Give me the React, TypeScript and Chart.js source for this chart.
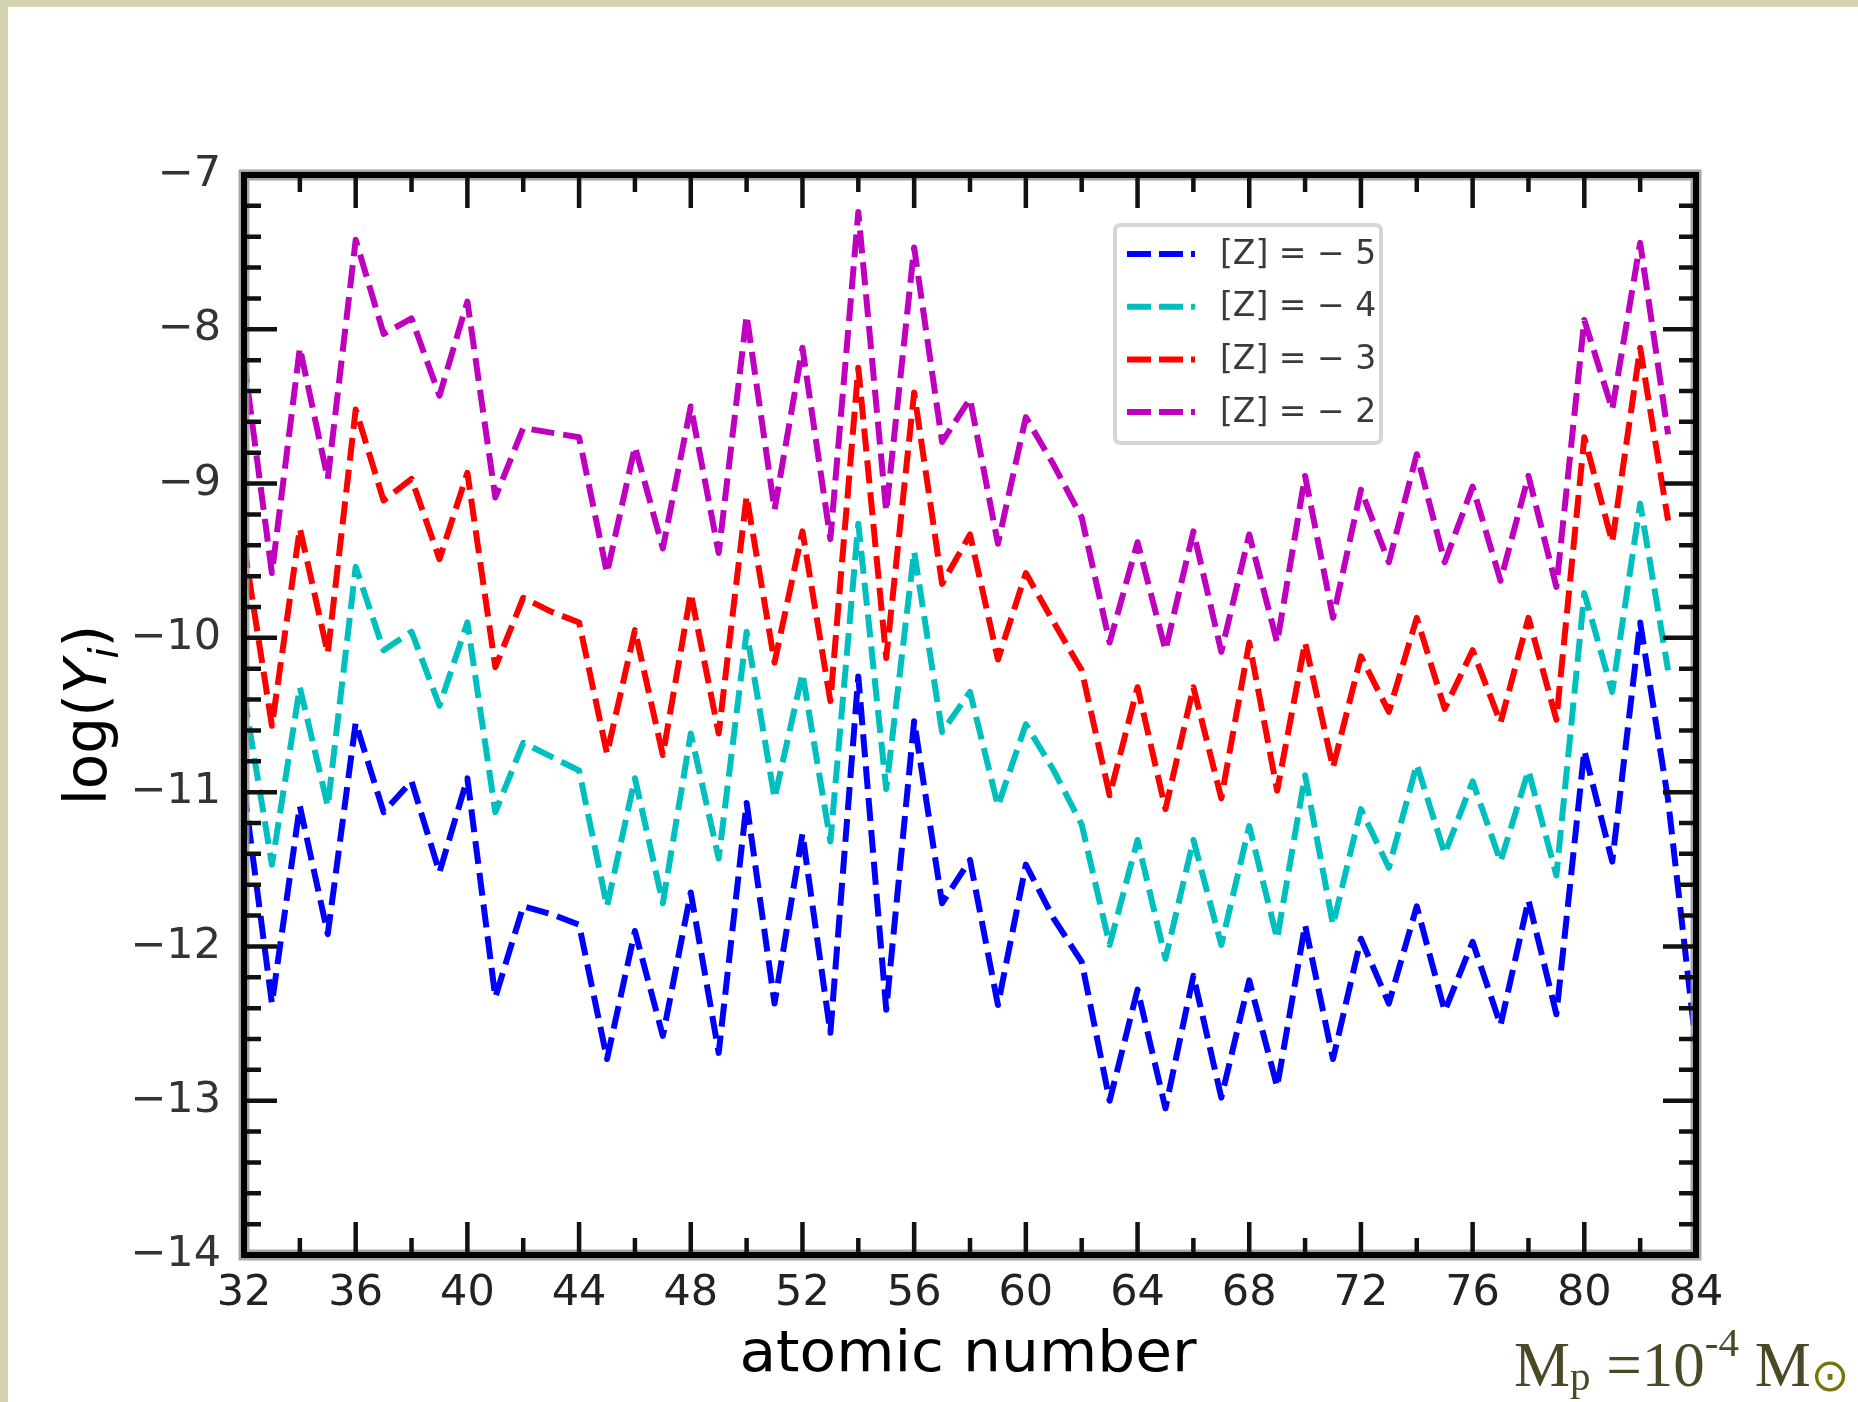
import React, { useEffect, useRef } from 'react';
import { Chart, registerables } from 'chart.js';

Chart.register(...registerables);

// ---- data ----
const atomicNumbers = [
  32, 33, 34, 35, 36, 37, 38, 39, 40, 41, 42, 43, 44, 45, 46, 47, 48, 49, 50, 51,
  52, 53, 54, 55, 56, 57, 58, 59, 60, 61, 62, 63, 64, 65, 66, 67, 68, 69, 70, 71,
  72, 73, 74, 75, 76, 77, 78, 79, 80, 81, 82, 83, 84,
];

const seriesLabels = ['[Z] = \u2212 5', '[Z] = \u2212 4', '[Z] = \u2212 3', '[Z] = \u2212 2'];
const seriesColors = ['#0000ff', '#00bfbf', '#ff0000', '#bf00bf'];

const logY_Zm5 = [
  -10.98, -12.37, -11.09, -11.92, -10.55, -11.13, -10.93, -11.52, -10.91, -12.33,
  -11.74, -11.79, -11.86, -12.73, -11.90, -12.58, -11.65, -12.69, -11.07, -12.37,
  -11.27, -12.56, -10.25, -12.41, -10.54, -11.72, -11.44, -12.38, -11.47, -11.82,
  -12.10, -13.00, -12.28, -13.05, -12.19, -12.98, -12.22, -12.91, -11.86, -12.73,
  -11.95, -12.37, -11.74, -12.42, -11.97, -12.51, -11.70, -12.44, -10.73, -11.45,
  -9.90, -11.05, -12.65,
];
const logY_Zm4 = [
  -10.37, -11.47, -10.32, -11.09, -9.54, -10.08, -9.96, -10.44, -9.90, -11.13,
  -10.68, -10.77, -10.86, -11.74, -10.91, -11.72, -10.62, -11.43, -9.96, -11.04,
  -10.23, -11.32, -9.26, -10.98, -9.44, -10.61, -10.35, -11.09, -10.56, -10.86,
  -11.21, -11.99, -11.31, -12.08, -11.31, -11.99, -11.22, -11.95, -10.89, -11.86,
  -11.11, -11.49, -10.82, -11.40, -10.93, -11.45, -10.86, -11.54, -9.71, -10.35,
  -9.13, -10.21, null,
];
const logY_Zm3 = [
  -9.40, -10.57, -9.29, -10.10, -8.52, -9.11, -8.97, -9.49, -8.93, -10.19,
  -9.74, -9.83, -9.90, -10.75, -9.95, -10.76, -9.71, -10.62, -9.08, -10.16,
  -9.31, -10.41, -8.25, -10.13, -8.41, -9.65, -9.33, -10.14, -9.58, -9.90,
  -10.21, -11.02, -10.32, -11.11, -10.32, -11.04, -10.03, -10.99, -10.03, -10.84,
  -10.12, -10.48, -9.87, -10.46, -10.08, -10.55, -9.87, -10.53, -8.70, -9.38,
  -8.12, -9.24, null,
];
const logY_Zm2 = [
  -8.20, -9.58, -8.12, -8.97, -7.42, -8.03, -7.93, -8.43, -7.82, -9.09,
  -8.64, -8.67, -8.70, -9.58, -8.76, -9.42, -8.50, -9.45, -7.91, -9.17,
  -8.12, -9.36, -7.24, -9.18, -7.47, -8.73, -8.45, -9.39, -8.57, -8.88,
  -9.22, -10.03, -9.38, -10.08, -9.31, -10.09, -9.33, -10.03, -8.95, -9.87,
  -9.04, -9.51, -8.81, -9.51, -9.02, -9.63, -8.95, -9.67, -7.94, -8.52,
  -7.44, -8.68, null,
];

const xTickValues = [32, 36, 40, 44, 48, 52, 56, 60, 64, 68, 72, 76, 80, 84];
const yTickValues = [-14, -13, -12, -11, -10, -9, -8, -7];

const xTitle = 'atomic number';

// ---- layout constants ----
const W = 1858;
const H = 1402;
const FONT = '"DejaVu Sans"';

const decorPlugin = {
  id: 'decor',
  afterDatasetsDraw(chart: any) {
    const { ctx, chartArea: a, scales } = chart;
    const xs = scales.x;
    const ys = scales.y;
    ctx.save();
    ctx.setLineDash([]);

    // halo around the frame
    ctx.strokeStyle = 'rgba(150,150,150,0.85)';
    ctx.lineWidth = 11;
    ctx.strokeRect(a.left, a.top, a.right - a.left, a.bottom - a.top);

    // inward ticks
    ctx.strokeStyle = '#111';
    ctx.lineWidth = 4.5;
    ctx.lineCap = 'butt';
    ctx.beginPath();
    for (let i = 0; i < xTickValues.length - 1; i++) {
      const v0 = xTickValues[i];
      const v1 = xTickValues[i + 1];
      const px = xs.getPixelForValue(v0 + (v1 - v0) / 2);
      ctx.moveTo(px, a.bottom); ctx.lineTo(px, a.bottom - 17);
      ctx.moveTo(px, a.top); ctx.lineTo(px, a.top + 17);
      if (i > 0) {
        const pm = xs.getPixelForValue(v0);
        ctx.moveTo(pm, a.bottom); ctx.lineTo(pm, a.bottom - 33);
        ctx.moveTo(pm, a.top); ctx.lineTo(pm, a.top + 33);
      }
    }
    for (let i = 0; i < yTickValues.length - 1; i++) {
      const v0 = yTickValues[i];
      const v1 = yTickValues[i + 1];
      for (let k = 1; k < 5; k++) {
        const py = ys.getPixelForValue(v0 + ((v1 - v0) * k) / 5);
        ctx.moveTo(a.left, py); ctx.lineTo(a.left + 17, py);
        ctx.moveTo(a.right, py); ctx.lineTo(a.right - 17, py);
      }
      if (i > 0) {
        const py = ys.getPixelForValue(v0);
        ctx.moveTo(a.left, py); ctx.lineTo(a.left + 33, py);
        ctx.moveTo(a.right, py); ctx.lineTo(a.right - 33, py);
      }
    }
    ctx.stroke();

    // frame
    ctx.strokeStyle = '#000';
    ctx.lineWidth = 6;
    ctx.strokeRect(a.left, a.top, a.right - a.left, a.bottom - a.top);

    // legend
    const lx0 = 1115, ly0 = 225, lx1 = 1381, ly1 = 443, r = 6;
    ctx.beginPath();
    ctx.moveTo(lx0 + r, ly0);
    ctx.lineTo(lx1 - r, ly0);
    ctx.quadraticCurveTo(lx1, ly0, lx1, ly0 + r);
    ctx.lineTo(lx1, ly1 - r);
    ctx.quadraticCurveTo(lx1, ly1, lx1 - r, ly1);
    ctx.lineTo(lx0 + r, ly1);
    ctx.quadraticCurveTo(lx0, ly1, lx0, ly1 - r);
    ctx.lineTo(lx0, ly0 + r);
    ctx.quadraticCurveTo(lx0, ly0, lx0 + r, ly0);
    ctx.closePath();
    ctx.fillStyle = 'rgba(255,255,255,0.85)';
    ctx.fill();
    ctx.strokeStyle = '#d6d6d6';
    ctx.lineWidth = 4;
    ctx.stroke();

    chart.data.datasets.forEach((ds: any, i: number) => {
      const y = 254 + i * 52.7;
      ctx.beginPath();
      ctx.setLineDash([24, 8]);
      ctx.strokeStyle = ds.borderColor;
      ctx.lineWidth = 6;
      ctx.moveTo(1127, y);
      ctx.lineTo(1195, y);
      ctx.stroke();
      ctx.setLineDash([]);
      ctx.fillStyle = '#3a3a3a';
      ctx.font = `33px ${FONT}`;
      ctx.textAlign = 'left';
      ctx.textBaseline = 'middle';
      ctx.fillText(ds.label, 1220, y + 1);
    });

    // x title
    ctx.save();
    ctx.fillStyle = '#000';
    ctx.font = `57px ${FONT}`;
    ctx.textAlign = 'center';
    ctx.textBaseline = 'alphabetic';
    ctx.translate((a.left + a.right) / 2 - 2, 1371);
    ctx.scale(1.05, 1);
    ctx.fillText(xTitle, 0, 0);
    ctx.restore();

    // y title: log(Y_i)
    ctx.save();
    ctx.translate(106, (a.top + a.bottom) / 2);
    ctx.rotate(-Math.PI / 2);
    ctx.fillStyle = '#000';
    ctx.textBaseline = 'alphabetic';
    ctx.textAlign = 'left';
    const fs = 58;
    const parts = [
      { t: 'log(', f: `${fs}px ${FONT}`, dy: 0 },
      { t: 'Y', f: `oblique ${fs}px ${FONT}`, dy: 0 },
      { t: 'i', f: `oblique ${Math.round(fs * 0.7)}px ${FONT}`, dy: fs * 0.2 },
      { t: ')', f: `${fs}px ${FONT}`, dy: 0 },
    ];
    let total = 0;
    const widths = parts.map((p) => {
      ctx.font = p.f;
      const w = ctx.measureText(p.t).width;
      total += w;
      return w;
    });
    let cx = -total / 2;
    parts.forEach((p, i) => {
      ctx.font = p.f;
      ctx.fillText(p.t, cx, p.dy);
      cx += widths[i];
    });
    ctx.restore();

    ctx.restore();
  },
};

export default function App() {
  const canvasRef = useRef<HTMLCanvasElement | null>(null);

  useEffect(() => {
    const canvas = canvasRef.current;
    if (!canvas) return;
    const seriesValues = [logY_Zm5, logY_Zm4, logY_Zm3, logY_Zm2];
    const datasets = seriesValues.map((vals, i) => ({
      label: seriesLabels[i],
      data: atomicNumbers
        .map((z, j) => ({ x: z, y: vals[j] }))
        .filter((p) => p.y !== null && p.y !== undefined),
      borderColor: seriesColors[i],
      backgroundColor: seriesColors[i],
      borderWidth: 6,
      borderDash: [23, 9],
      borderJoinStyle: 'round' as const,
      pointRadius: 0,
      tension: 0,
      fill: false,
      order: 3 - i,
    }));

    const chart = new Chart(canvas, {
      type: 'line',
      data: { datasets },
      options: {
        animation: false,
        responsive: false,
        devicePixelRatio: 1,
        layout: { padding: { left: 0, right: W - 1696, top: 175, bottom: 0 } },
        plugins: {
          legend: { display: false },
          tooltip: { enabled: false },
        },
        scales: {
          x: {
            type: 'linear',
            min: 32,
            max: 84,
            grid: { display: false },
            border: { display: false },
            afterBuildTicks: (s: any) => {
              s.ticks = xTickValues.map((v) => ({ value: v }));
            },
            ticks: {
              autoSkip: false,
              maxRotation: 0,
              padding: 5,
              color: '#222',
              font: { family: 'DejaVu Sans', size: 43 },
            },
            afterFit: (s: any) => {
              s.height = H - 1255;
            },
          },
          y: {
            type: 'linear',
            min: -14,
            max: -7,
            grid: { display: false },
            border: { display: false },
            afterBuildTicks: (s: any) => {
              s.ticks = yTickValues.map((v) => ({ value: v }));
            },
            ticks: {
              autoSkip: false,
              padding: 15,
              color: '#333',
              font: { family: 'DejaVu Sans', size: 43 },
              callback: (v: any) => (Number(v) < 0 ? '\u2212' + Math.abs(Number(v)) : String(v)),
            },
            afterFit: (s: any) => {
              s.width = 244;
            },
          },
        },
      },
      plugins: [decorPlugin],
    });

    return () => {
      chart.destroy();
    };
  }, []);

  return (
    <div
      style={{
        position: 'fixed',
        left: 0,
        top: 0,
        width: W,
        height: H,
        background: '#d5d2b2',
        overflow: 'hidden',
      }}
    >
      <div
        style={{
          position: 'absolute',
          left: 8,
          top: 7,
          right: 0,
          bottom: 0,
          background: '#ffffff',
        }}
      />
      <canvas
        ref={canvasRef}
        width={W}
        height={H}
        style={{ position: 'absolute', left: 0, top: 0, width: W, height: H }}
      />
      <div
        style={{
          position: 'absolute',
          left: 1514,
          top: 1334,
          fontFamily: '"Liberation Serif", "Times New Roman", serif',
          fontSize: 63,
          lineHeight: '63px',
          color: '#4b4826',
          whiteSpace: 'nowrap',
        }}
      >
        M
        <span style={{ fontSize: 41, position: 'relative', top: 4 }}>p</span>
        {' =10'}
        <span style={{ fontSize: 41, position: 'relative', top: -30 }}>-4</span>
        {' M'}
        <span
          style={{
            fontSize: 46,
            position: 'relative',
            top: 5,
            color: '#76740a',
            fontFamily: '"DejaVu Sans", sans-serif',
          }}
        >
          {'\u2299'}
        </span>
      </div>
    </div>
  );
}
